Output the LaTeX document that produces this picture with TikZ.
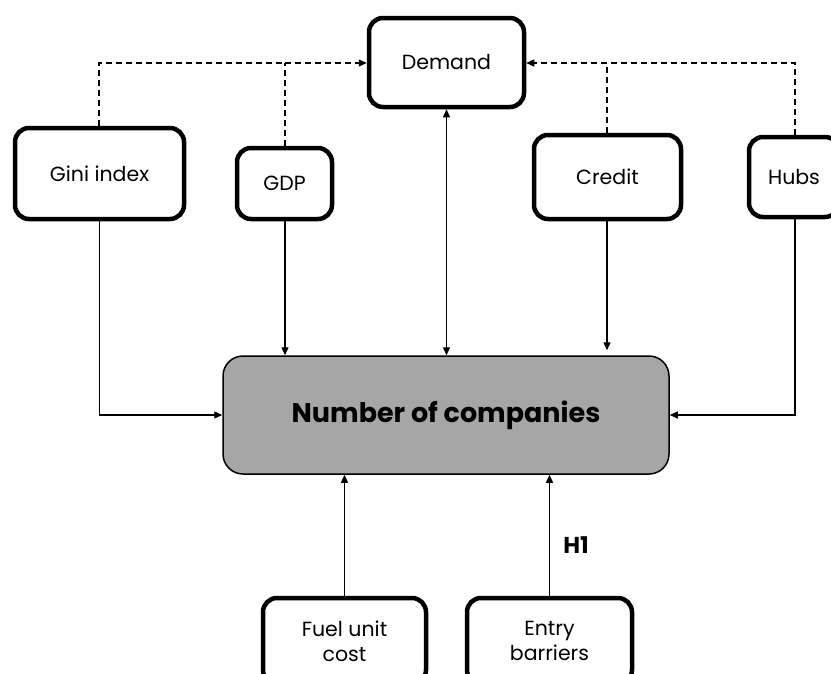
\documentclass[tikz,border=0pt]{standalone}
\usepackage{fontspec}
\setmainfont{Poppins}
\usetikzlibrary{arrows.meta}
\definecolor{boxgray}{HTML}{A6A6A6}
\tikzset{
  varbox/.style={draw=black, line width=4.5pt, rounded corners=14pt, fill=white, align=center, font=\fontsize{20.5}{25}\selectfont, inner sep=0pt},
  mainbox/.style={draw=black, line width=1.5pt, rounded corners=20pt, fill=boxgray, font=\bfseries\fontsize{27}{30}\selectfont, inner sep=0pt},
  solidarr/.style={line width=1.3pt, -{Triangle[length=8pt,width=7pt]}},
  dasharr/.style={line width=1.3pt, dash pattern=on 6pt off 4pt},
  hlabel/.style={font=\bfseries\fontsize{23}{26}\selectfont, inner sep=0pt},
}
\begin{document}
\begin{tikzpicture}[x=1pt,y=-1pt]
\useasboundingbox (0,0) rectangle (831,673);
\clip (0,0) rectangle (831,673);
% nodes
\node[varbox, minimum width=155pt, minimum height=89pt] (dem) at (446.5,62.5) {Demand};
\node[varbox, minimum width=169pt, minimum height=91pt] (gini) at (99.5,173.5) {Gini index};
\node[varbox, minimum width=95pt, minimum height=71pt] (gdp) at (284.5,183.5) {GDP};
\node[varbox, minimum width=147pt, minimum height=84pt] (cred) at (607.5,177) {Credit};
\node[varbox, minimum width=90pt, minimum height=80pt] (hubs) at (794,177) {Hubs};
\node[mainbox, minimum width=446pt, minimum height=118pt] (noc) at (446,415) {Number of companies};
\node[varbox, minimum width=163pt, minimum height=86pt] (fuel) at (344.5,641) {Fuel unit\\cost};
\node[varbox, minimum width=165pt, minimum height=86pt] (entry) at (549.5,641) {Entry\\barriers};
\node[hlabel] (h1) at (576,545) {H1};
% coordinates
\coordinate (jl) at (99,63);
\coordinate (jr) at (795,63);
\coordinate (gdpj) at (285,63);
\coordinate (credj) at (607,63);
% dashed links to Demand
\draw[dasharr] (gini.north -| jl) -- (jl) -- (gdpj);
\draw[dasharr] (gdp.north -| gdpj) -- (gdpj);
\draw[dasharr, -{Triangle[length=8pt,width=7pt]}] (gdpj) -- (dem.west |- gdpj);
\draw[dasharr] (hubs.north -| jr) -- (jr) -- (credj);
\draw[dasharr] (cred.north -| credj) -- (credj);
\draw[dasharr, -{Triangle[length=8pt,width=7pt]}] (credj) -- (dem.east |- credj);
% solid links
\draw[solidarr] (gini.south) |- (noc.west);
\draw[solidarr] (gdp.south -| gdpj) -- (noc.north -| gdpj);
\draw[solidarr, {Triangle[length=8pt,width=7pt]}-{Triangle[length=8pt,width=7pt]}] (dem.south) -- (noc.north -| dem.south);
\draw[solidarr] (cred.south -| credj) -- ([yshift=5pt]noc.north -| credj);
\draw[solidarr] (hubs.south -| jr) |- (noc.east);
\draw[solidarr] (fuel.north) -- (noc.south -| fuel.north);
\draw[solidarr] (entry.north) -- (noc.south -| entry.north);
\end{tikzpicture}
\end{document}
